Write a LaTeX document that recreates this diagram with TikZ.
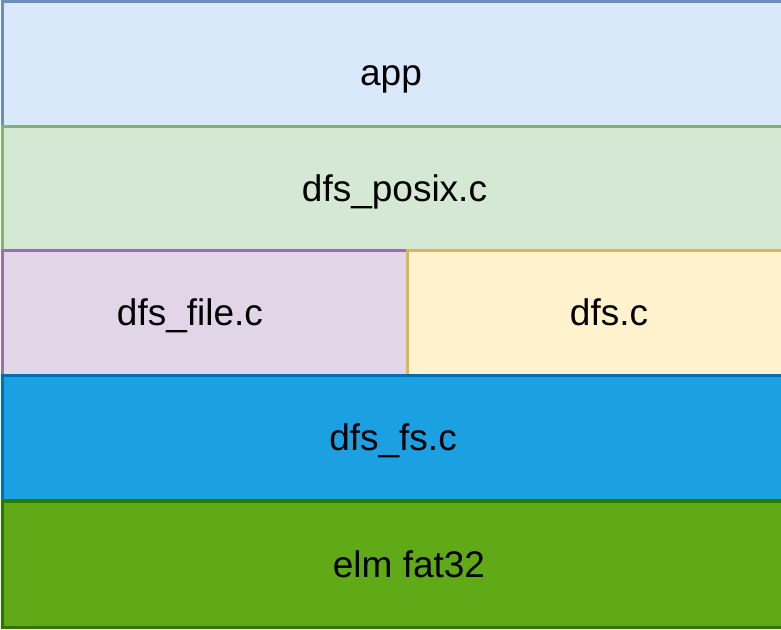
\documentclass[tikz,border=0pt]{standalone}
\usepackage{fontspec}
\setmainfont{Liberation Sans}
\definecolor{appfill}{HTML}{DAE8FC}\definecolor{appline}{HTML}{6C8EBF}
\definecolor{posixfill}{HTML}{D5E8D4}\definecolor{posixline}{HTML}{82B366}
\definecolor{filefill}{HTML}{E1D5E7}\definecolor{fileline}{HTML}{9673A6}
\definecolor{dfsfill}{HTML}{FFF2CC}\definecolor{dfsline}{HTML}{D6B656}
\definecolor{fsfill}{HTML}{1BA1E2}\definecolor{fsline}{HTML}{006EAF}
\definecolor{elmfill}{HTML}{60A917}\definecolor{elmline}{HTML}{2D7600}
\tikzset{
	layer/.style={rectangle,inner sep=0pt,outer sep=0pt,line width=3pt,minimum height=125pt},
	layertext/.style={inner sep=0pt,anchor=base,font=\fontsize{37}{44}\selectfont}
}
\begin{document}
\begin{tikzpicture}[x=1pt,y=1pt]
	\useasboundingbox (0,0) rectangle (781,629);
	\begin{scope}
	\clip (0,0) rectangle (781,629);
	% layers, top to bottom
	\node[layer,fill=appfill,draw=appline,minimum width=780pt] (app) at (392,564.5) {};
	\node[layer,fill=posixfill,draw=posixline,minimum width=780pt] (posix) at (392,440) {};
	\node[layer,fill=filefill,draw=fileline,minimum width=405pt] (file) at (204.5,315.5) {};
	\node[layer,fill=dfsfill,draw=dfsline,minimum width=375pt] (dfs) at (594.5,315.5) {};
	\node[layer,fill=fsfill,draw=fsline,minimum width=780pt] (fs) at (392,190.5) {};
	\node[layer,fill=elmfill,draw=elmline,minimum width=780pt] (elm) at (392,64.5) {};
	\end{scope}
	% labels
	\node[layertext] (apptext) at (391,543) {app};
	\node[layertext] (posixtext) at (394.5,427) {dfs\_posix.c};
	\node[layertext] (filetext) at (190,303) {dfs\_file.c};
	\node[layertext] (dfstext) at (609,303) {dfs.c};
	\node[layertext] (fstext) at (393,178) {dfs\_fs.c};
	\node[layertext] (elmtext) at (409,52) {elm fat32};
\end{tikzpicture}
\end{document}
